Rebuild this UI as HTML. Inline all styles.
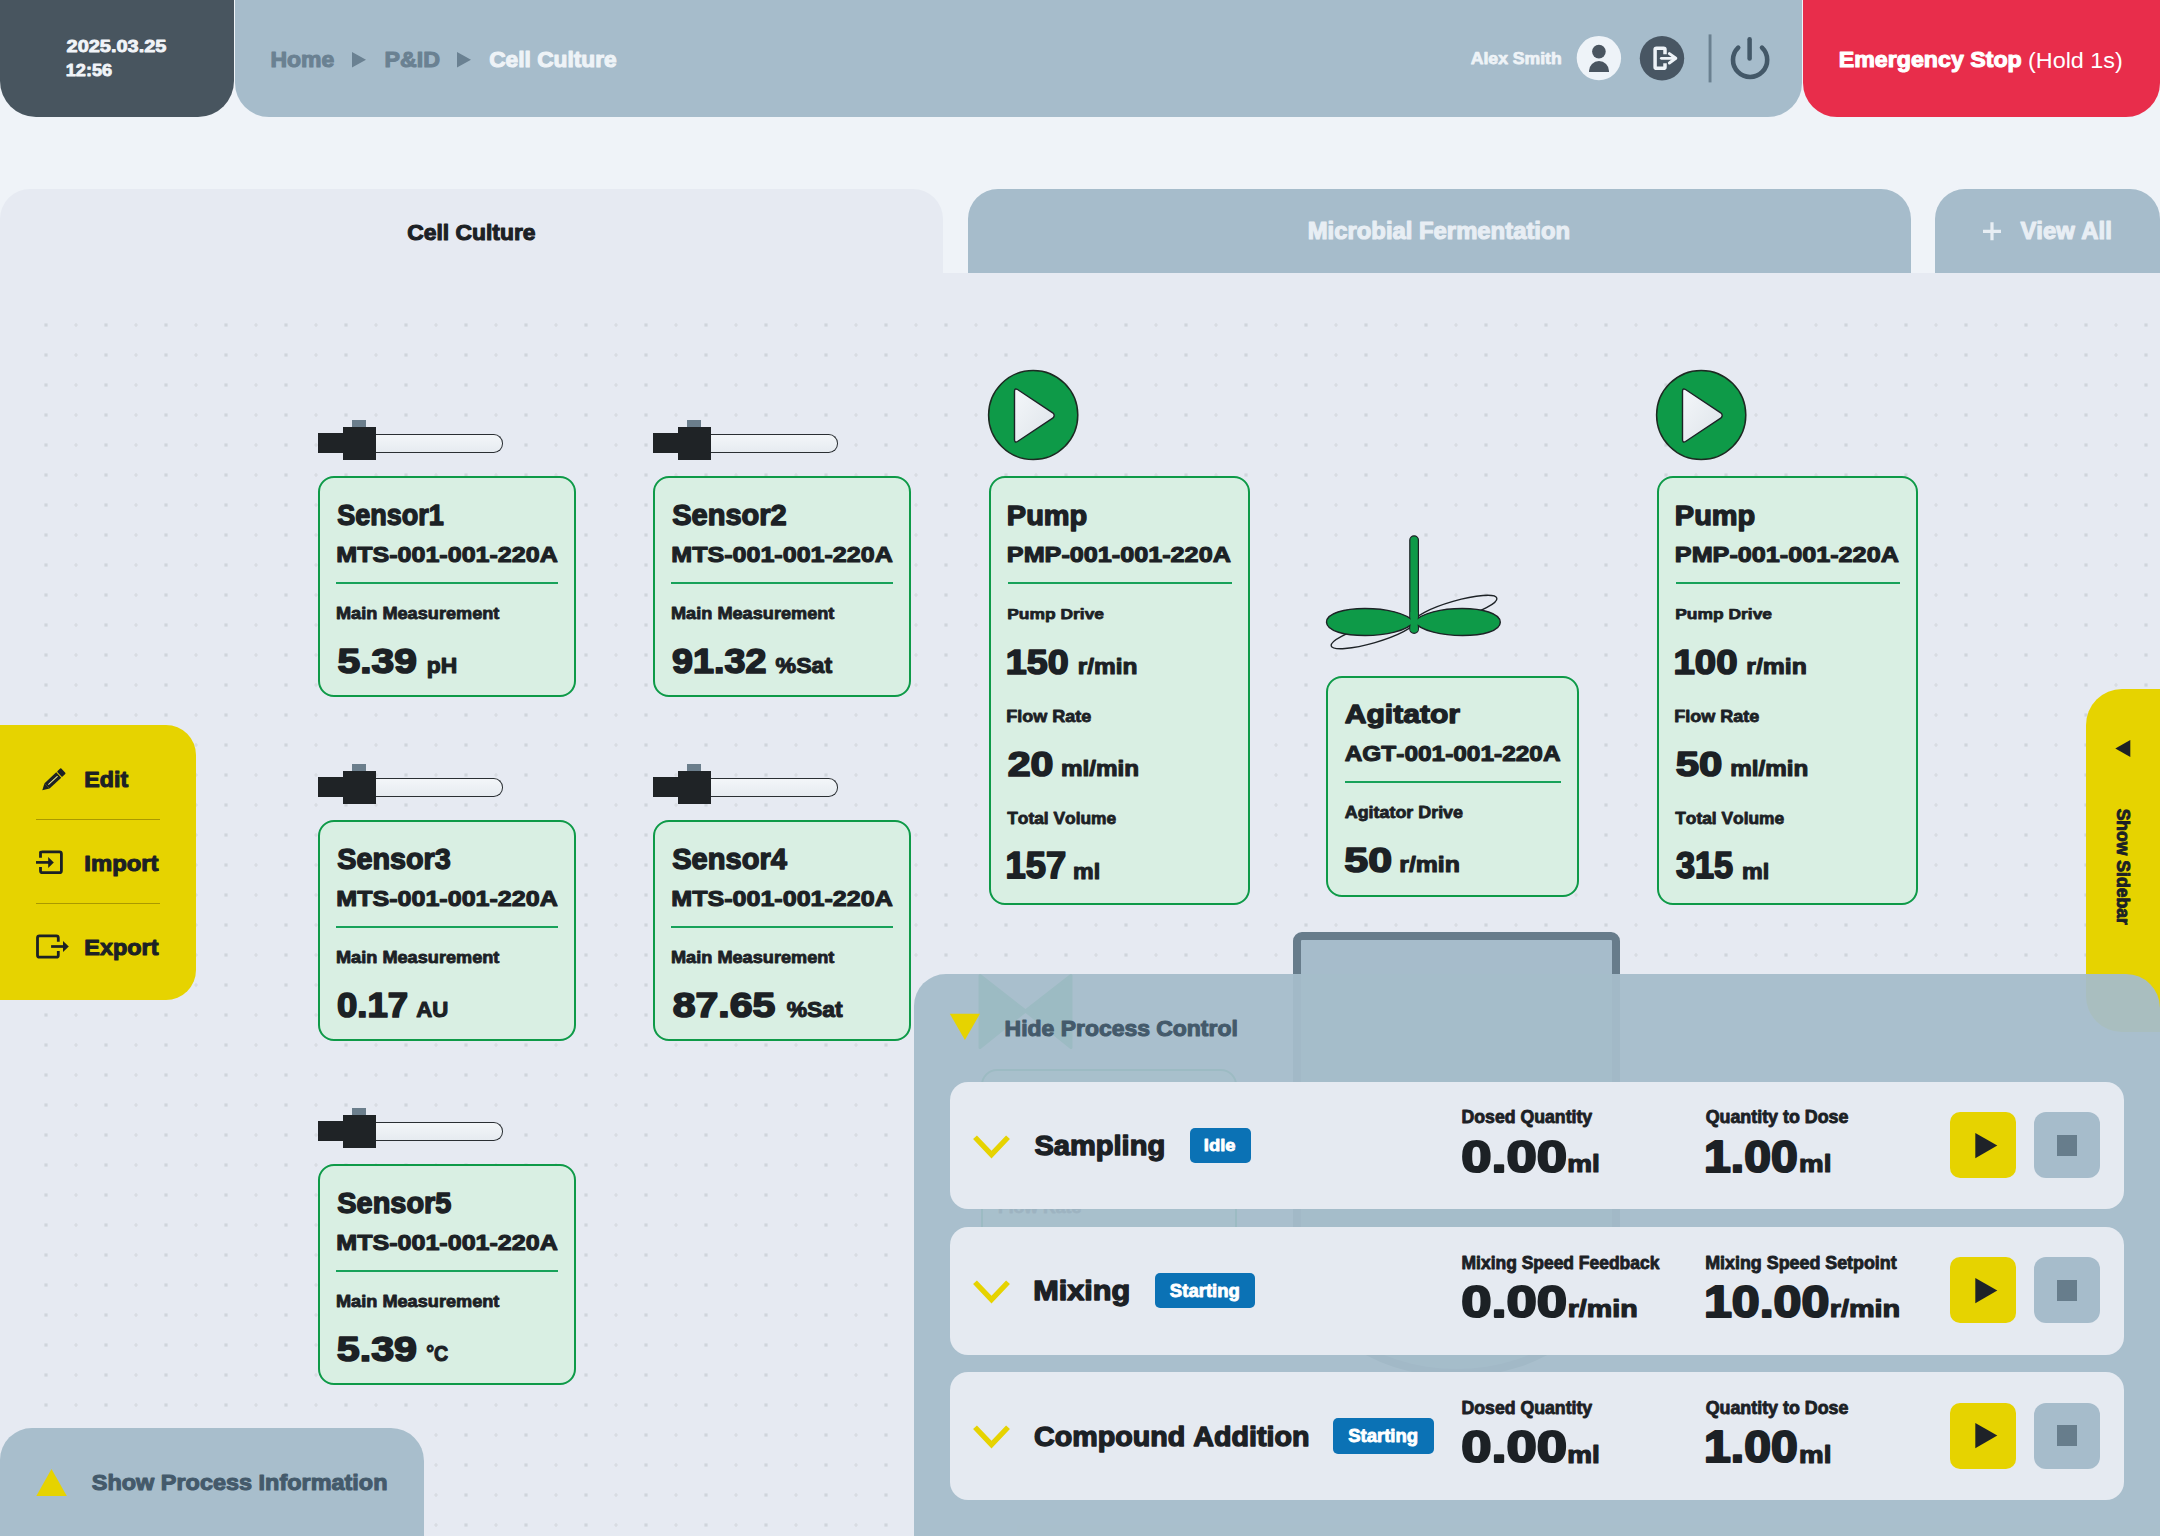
<!DOCTYPE html>
<html><head><meta charset="utf-8"><title>Cell Culture P&amp;ID</title>
<style>
*{margin:0;padding:0}
html,body{width:2160px;height:1536px;overflow:hidden;background:#eff3f8;font-family:"Liberation Sans",sans-serif}
#root{position:relative;width:2160px;height:1536px;overflow:hidden}
#root>div,.abs{position:absolute}
.txt{position:absolute;left:0;top:0;font-family:"Liberation Sans",sans-serif;font-kerning:none;pointer-events:none}
</style></head>
<body><div id="root">
<div style="left:0px;top:272.8px;width:2160px;height:1263.2px;background:#e6eaf2;border-radius:0;z-index:0"></div><svg class="abs" style="left:0;top:273px" width="2160" height="1263" viewBox="0 273 2160 1263">
<defs><pattern id="dp" x="0" y="310" width="60" height="30" patternUnits="userSpaceOnUse">
<rect x="44.4" y="13.4" width="3.2" height="3.2" fill="#d0d5dc"/>
<path d="M16 13 L16 17 M14 15 L18 15" stroke="#d5d9df" stroke-width="1.2"/>
</pattern></defs>
<rect x="40" y="318" width="873" height="1218" fill="url(#dp)"/><rect x="913" y="318" width="1247" height="656" fill="url(#dp)"/></svg><div style="left:0px;top:189px;width:943px;height:90px;background:#e6eaf2;border-radius:30px 30px 0 0;"></div><div style="left:967.5px;top:189px;width:943px;height:84px;background:#a6bccb;border-radius:30px 30px 0 0;"></div><div style="left:1935px;top:189px;width:225px;height:84px;background:#a6bccb;border-radius:30px 30px 0 0;"></div><div style="left:0px;top:0px;width:234px;height:117px;background:#48555f;border-radius:0 0 36px 36px;"></div><div style="left:234.5px;top:0px;width:1567px;height:117px;background:#a6bccb;border-radius:0 0 34px 34px;"></div><div style="left:1802.5px;top:0px;width:357.5px;height:117px;background:#e82d4b;border-radius:0 0 34px 34px;"></div><svg class="abs" style="left:0;top:0" width="2160" height="120" viewBox="0 0 2160 120">
<path d="M352 52 L366 59.8 L352 67.6 Z" fill="#6a8192"/>
<path d="M457 52 L471 59.8 L457 67.6 Z" fill="#6a8192"/>
<circle cx="1598.9" cy="58.1" r="22.2" fill="#eef3f8"/>
<circle cx="1598.9" cy="51.6" r="6.8" fill="#4a5560"/>
<path d="M1589 72.1 L1589 71 A10 10 0 0 1 1609 71 L1609 72.1 Z" fill="#4a5560"/>
<circle cx="1662" cy="58.2" r="22.2" fill="#485663"/>
<path d="M1665 54.2 L1665 49.6 Q1665 48.2 1663.6 48.2 L1656.5 48.2 Q1655.1 48.2 1655.1 49.6 L1655.1 66.9 Q1655.1 68.3 1656.5 68.3 L1663.6 68.3 Q1665 68.3 1665 66.9 L1665 63.3" fill="none" stroke="#eef3f8" stroke-width="3.5" stroke-linejoin="round"/>
<path d="M1661.3 58.3 L1674.5 58.3" stroke="#eef3f8" stroke-width="2.8" stroke-linecap="round"/>
<path d="M1669.4 53.6 L1675.8 58.3 L1669.4 63" fill="none" stroke="#eef3f8" stroke-width="3" stroke-linecap="round" stroke-linejoin="round"/>
<rect x="1708.6" y="34.4" width="2.9" height="48" fill="#6a8090"/>
<path d="M1738.2 47.6 A17.1 17.1 0 1 0 1762 47.6" fill="none" stroke="#435868" stroke-width="4.6" stroke-linecap="round"/>
<path d="M1749.6 39.3 L1749.6 58.4" stroke="#435868" stroke-width="4.5" stroke-linecap="round"/>
<path d="M1992 222.3 L1992 240.3 M1983 231.3 L2001 231.3" stroke="#e8eef4" stroke-width="3.2"/>
</svg><svg class="abs" style="left:1975px;top:215px" width="35" height="35" viewBox="1975 215 35 35"><path d="M1992 222.3 L1992 240.3 M1983 231.3 L2001 231.3" stroke="#e8eef4" stroke-width="3.2"/></svg><div style="left:375px;top:434.2px;width:128.2px;height:19.2px;background:linear-gradient(#f3f6f9,#e6ebf0);border-radius:0 9.2px 9.2px 0;border:1.4px solid #2a2f33;border-left:none;box-sizing:border-box"></div><div style="left:318px;top:433px;width:26px;height:20.3px;background:#1f2326;border-radius:0;"></div><div style="left:352.3px;top:420px;width:13.4px;height:7px;background:#6b7e8c;border-radius:0;"></div><div style="left:343px;top:426.5px;width:32.8px;height:33.2px;background:#1f2326;border-radius:0;"></div><div style="left:318px;top:476px;width:258px;height:221px;background:#d9efe3;border-radius:16px;border:2.5px solid #0e9a48;box-sizing:border-box"></div><div style="left:336.1px;top:581.7px;width:222.39999999999998px;height:2px;background:#17a25a;border-radius:0;"></div><div style="left:710px;top:434.2px;width:128.2px;height:19.2px;background:linear-gradient(#f3f6f9,#e6ebf0);border-radius:0 9.2px 9.2px 0;border:1.4px solid #2a2f33;border-left:none;box-sizing:border-box"></div><div style="left:653px;top:433px;width:26px;height:20.3px;background:#1f2326;border-radius:0;"></div><div style="left:687.3px;top:420px;width:13.4px;height:7px;background:#6b7e8c;border-radius:0;"></div><div style="left:678px;top:426.5px;width:32.8px;height:33.2px;background:#1f2326;border-radius:0;"></div><div style="left:653px;top:476px;width:258px;height:221px;background:#d9efe3;border-radius:16px;border:2.5px solid #0e9a48;box-sizing:border-box"></div><div style="left:671.1px;top:581.7px;width:222.39999999999998px;height:2px;background:#17a25a;border-radius:0;"></div><div style="left:375px;top:778.2px;width:128.2px;height:19.2px;background:linear-gradient(#f3f6f9,#e6ebf0);border-radius:0 9.2px 9.2px 0;border:1.4px solid #2a2f33;border-left:none;box-sizing:border-box"></div><div style="left:318px;top:777px;width:26px;height:20.3px;background:#1f2326;border-radius:0;"></div><div style="left:352.3px;top:764px;width:13.4px;height:7px;background:#6b7e8c;border-radius:0;"></div><div style="left:343px;top:770.5px;width:32.8px;height:33.2px;background:#1f2326;border-radius:0;"></div><div style="left:318px;top:820px;width:258px;height:221px;background:#d9efe3;border-radius:16px;border:2.5px solid #0e9a48;box-sizing:border-box"></div><div style="left:336.1px;top:925.7px;width:222.39999999999998px;height:2px;background:#17a25a;border-radius:0;"></div><div style="left:710px;top:778.2px;width:128.2px;height:19.2px;background:linear-gradient(#f3f6f9,#e6ebf0);border-radius:0 9.2px 9.2px 0;border:1.4px solid #2a2f33;border-left:none;box-sizing:border-box"></div><div style="left:653px;top:777px;width:26px;height:20.3px;background:#1f2326;border-radius:0;"></div><div style="left:687.3px;top:764px;width:13.4px;height:7px;background:#6b7e8c;border-radius:0;"></div><div style="left:678px;top:770.5px;width:32.8px;height:33.2px;background:#1f2326;border-radius:0;"></div><div style="left:653px;top:820px;width:258px;height:221px;background:#d9efe3;border-radius:16px;border:2.5px solid #0e9a48;box-sizing:border-box"></div><div style="left:671.1px;top:925.7px;width:222.39999999999998px;height:2px;background:#17a25a;border-radius:0;"></div><div style="left:375px;top:1122.2px;width:128.2px;height:19.2px;background:linear-gradient(#f3f6f9,#e6ebf0);border-radius:0 9.2px 9.2px 0;border:1.4px solid #2a2f33;border-left:none;box-sizing:border-box"></div><div style="left:318px;top:1121px;width:26px;height:20.3px;background:#1f2326;border-radius:0;"></div><div style="left:352.3px;top:1108px;width:13.4px;height:7px;background:#6b7e8c;border-radius:0;"></div><div style="left:343px;top:1114.5px;width:32.8px;height:33.2px;background:#1f2326;border-radius:0;"></div><div style="left:318px;top:1164px;width:258px;height:221px;background:#d9efe3;border-radius:16px;border:2.5px solid #0e9a48;box-sizing:border-box"></div><div style="left:336.1px;top:1269.7px;width:222.39999999999998px;height:2px;background:#17a25a;border-radius:0;"></div><div style="left:989px;top:476px;width:261px;height:428.5px;background:#d9efe3;border-radius:16px;border:2.5px solid #0e9a48;box-sizing:border-box"></div><div style="left:1008px;top:582px;width:224px;height:2px;background:#17a25a;border-radius:0;"></div><svg class="abs" style="left:984px;top:365px" width="100" height="100" viewBox="984 365 100 100">
<defs><linearGradient id="pg989" x1="0" y1="0" x2="1" y2="1"><stop offset="0" stop-color="#f4f7fa"/><stop offset="1" stop-color="#dde3e9"/></linearGradient></defs>
<circle cx="1033.2" cy="415" r="44.6" fill="#0e9a48" stroke="#1d2a22" stroke-width="1.5"/>
<path d="M1017.5 389.5 Q1014.5 387.8 1014.5 391.5 L1014.5 439.5 Q1014.5 443.2 1017.5 441.5 L1052.7 418.2 Q1055.7 415.5 1052.7 412.8 Z" fill="url(#pg989)" stroke="#1d2226" stroke-width="1.4" stroke-linejoin="round"/>
</svg><div style="left:1657px;top:476px;width:261px;height:428.5px;background:#d9efe3;border-radius:16px;border:2.5px solid #0e9a48;box-sizing:border-box"></div><div style="left:1676px;top:582px;width:224px;height:2px;background:#17a25a;border-radius:0;"></div><svg class="abs" style="left:1652px;top:365px" width="100" height="100" viewBox="1652 365 100 100">
<defs><linearGradient id="pg1657" x1="0" y1="0" x2="1" y2="1"><stop offset="0" stop-color="#f4f7fa"/><stop offset="1" stop-color="#dde3e9"/></linearGradient></defs>
<circle cx="1701.2" cy="415" r="44.6" fill="#0e9a48" stroke="#1d2a22" stroke-width="1.5"/>
<path d="M1685.5 389.5 Q1682.5 387.8 1682.5 391.5 L1682.5 439.5 Q1682.5 443.2 1685.5 441.5 L1720.7 418.2 Q1723.7 415.5 1720.7 412.8 Z" fill="url(#pg1657)" stroke="#1d2226" stroke-width="1.4" stroke-linejoin="round"/>
</svg><div style="left:1326px;top:675.5px;width:253px;height:221.5px;background:#d9efe3;border-radius:16px;border:2.5px solid #0e9a48;box-sizing:border-box"></div><div style="left:1344.5px;top:780.7px;width:216.5px;height:2px;background:#17a25a;border-radius:0;"></div><svg class="abs" style="left:1310px;top:525px" width="200" height="135" viewBox="1310 525 200 135">
<ellipse cx="1455.5" cy="610" rx="43" ry="9" transform="rotate(-16 1455.5 610)" fill="none" stroke="#1d2226" stroke-width="1.4"/>
<ellipse cx="1372.5" cy="634" rx="43" ry="9" transform="rotate(-16 1372.5 634)" fill="none" stroke="#1d2226" stroke-width="1.4"/>
<rect x="1409.8" y="535.8" width="8.6" height="97.5" rx="4.3" fill="#0e9a48" stroke="#1d2226" stroke-width="1.2"/>
<path d="M1414 622 C1400 604 1326 604 1326.5 622.3 C1327 640 1400 640 1414 622 C1428 604 1500 604 1500.3 622.3 C1500.3 640 1428 640 1414 622 Z" fill="#0e9a48" stroke="#1d2226" stroke-width="1.4"/>
<rect x="1410.5" y="612" width="7.2" height="19" fill="#0e9a48"/>
</svg><div style="left:1293px;top:932px;width:327px;height:445px;background:#a6bccb;border-radius:9px 9px 163.5px 163.5px / 9px 9px 130px 130px;border:8.6px solid #677c8b;box-sizing:border-box"></div><svg class="abs" style="left:975px;top:970px" width="100" height="82" viewBox="975 970 100 82">
<path d="M980 975.5 L1025.5 1011 L980 1047.5 Z M1071 975.5 L1025.5 1011 L1071 1047.5 Z" fill="#0e9a48" stroke="#0e9a48" stroke-width="3" stroke-linejoin="round"/></svg><div style="left:980.5px;top:1069.4px;width:256.5px;height:221px;background:#d9efe3;border-radius:16px;border:2.5px solid #0e9a48;box-sizing:border-box"></div><svg class="txt" width="2160" height="1536" viewBox="0 0 2160 1536"><text x="997.95" y="1212.82" font-size="15.89" font-weight="700" fill="#1c2125" textLength="83.27" lengthAdjust="spacingAndGlyphs" stroke="#1c2125" stroke-width="0.77" stroke-linejoin="round">Flow Rate</text></svg><div style="left:0px;top:724.6px;width:195.8px;height:275.8px;background:#e6d300;border-radius:0 30px 30px 0;"></div><div style="left:36px;top:819.3px;width:124.4px;height:1.2px;background:rgba(120,105,0,0.55);border-radius:0;"></div><div style="left:36px;top:903px;width:124.4px;height:1.2px;background:rgba(120,105,0,0.55);border-radius:0;"></div><svg class="abs" style="left:30px;top:760px" width="45" height="205" viewBox="30 760 45 205">
<g transform="translate(42.3 790.3) rotate(-43)">
<path d="M0 0 L6.5 -3.7 L6.5 3.7 Z" fill="#1c2125"/>
<rect x="6.5" y="-3.7" width="16" height="7.4" fill="#1c2125"/>
<rect x="8.3" y="-0.5" width="12.6" height="1" fill="#eee68a"/>
<rect x="23.5" y="-3.7" width="5.2" height="7.4" rx="0.8" fill="#1c2125"/>
</g>
<path d="M40.5 857.7 L40.5 852.2 Q40.5 851.8 42.5 851.8 L59.5 851.8 Q61.4 851.8 61.4 853.8 L61.4 870.7 Q61.4 872.7 59.5 872.7 L42.5 872.7 Q40.5 872.7 40.5 870.7 L40.5 867.1" fill="none" stroke="#1c2125" stroke-width="2.8"/>
<path d="M36 862.4 L49 862.4" stroke="#1c2125" stroke-width="2.7"/>
<path d="M48.2 857 L53.8 862.4 L48.2 868 Z" fill="#1c2125"/>
<path d="M58.3 941.7 L58.3 937.8 Q58.3 935.8 56.3 935.8 L39.5 935.8 Q37.5 935.8 37.5 937.8 L37.5 955.2 Q37.5 957.2 39.5 957.2 L56.3 957.2 Q58.3 957.2 58.3 955.2 L58.3 951" fill="none" stroke="#1c2125" stroke-width="2.8"/>
<path d="M51.1 946.5 L64 946.5" stroke="#1c2125" stroke-width="2.7"/>
<path d="M63 940.9 L68.8 946.5 L63 952 Z" fill="#1c2125"/>
</svg><div style="left:2085.6px;top:688.6px;width:80px;height:343.4px;background:#e6d300;border-radius:36px 0 0 36px;"></div><svg class="abs" style="left:2110px;top:735px" width="25" height="26" viewBox="2110 735 25 26"><path d="M2115.3 748.5 L2130.3 739.9 L2130.3 757.1 Z" fill="#1c2125"/></svg><div style="left:913.8px;top:973.7px;width:1246.2px;height:600px;background:rgba(165,188,202,0.944);border-radius:32px 34px 0 0;"></div><svg class="abs" style="left:945px;top:1008px" width="40" height="36" viewBox="945 1008 40 36"><path d="M949.8 1013.7 L980 1013.7 L964.9 1040 Z" fill="#e6d300"/></svg><div style="left:949.5px;top:1081.7px;width:1174.5px;height:127.8px;background:#e5eaf1;border-radius:18px;"></div><div style="left:1189.6px;top:1127.6000000000001px;width:61.2px;height:35.4px;background:#0b72b5;border-radius:5px;"></div><div style="left:1950px;top:1112.0px;width:66px;height:66.2px;background:#e6d300;border-radius:10px;"></div><div style="left:2034.3px;top:1112.0px;width:65.6px;height:66.2px;background:#a6bccb;border-radius:12px;"></div><div style="left:2056.5px;top:1134.6000000000001px;width:20.8px;height:21.3px;background:#677d8c;border-radius:0;"></div><svg class="abs" style="left:965px;top:1126.7px" width="1040" height="40" viewBox="965 1126.7 1040 40">
<path d="M975 1136.9 L991.5 1154.3 L1008 1136.9" fill="none" stroke="#e6d300" stroke-width="5.3"/>
<path d="M1975.3 1132.7 L1997.3 1145.3 L1975.3 1157.9 Z" fill="#1e2228"/>
</svg><div style="left:949.5px;top:1227.0px;width:1174.5px;height:127.8px;background:#e5eaf1;border-radius:18px;"></div><div style="left:1155.0px;top:1272.9px;width:100.3px;height:35.4px;background:#0b72b5;border-radius:5px;"></div><div style="left:1950px;top:1257.3px;width:66px;height:66.2px;background:#e6d300;border-radius:10px;"></div><div style="left:2034.3px;top:1257.3px;width:65.6px;height:66.2px;background:#a6bccb;border-radius:12px;"></div><div style="left:2056.5px;top:1279.9px;width:20.8px;height:21.3px;background:#677d8c;border-radius:0;"></div><svg class="abs" style="left:965px;top:1272.0px" width="1040" height="40" viewBox="965 1272.0 1040 40">
<path d="M975 1282.2 L991.5 1299.6 L1008 1282.2" fill="none" stroke="#e6d300" stroke-width="5.3"/>
<path d="M1975.3 1278.0 L1997.3 1290.6 L1975.3 1303.2 Z" fill="#1e2228"/>
</svg><div style="left:949.5px;top:1372.3px;width:1174.5px;height:127.8px;background:#e5eaf1;border-radius:18px;"></div><div style="left:1333.3px;top:1418.2px;width:100.7px;height:35.4px;background:#0b72b5;border-radius:5px;"></div><div style="left:1950px;top:1402.6px;width:66px;height:66.2px;background:#e6d300;border-radius:10px;"></div><div style="left:2034.3px;top:1402.6px;width:65.6px;height:66.2px;background:#a6bccb;border-radius:12px;"></div><div style="left:2056.5px;top:1425.2px;width:20.8px;height:21.3px;background:#677d8c;border-radius:0;"></div><svg class="abs" style="left:965px;top:1417.3px" width="1040" height="40" viewBox="965 1417.3 1040 40">
<path d="M975 1427.5 L991.5 1444.8999999999999 L1008 1427.5" fill="none" stroke="#e6d300" stroke-width="5.3"/>
<path d="M1975.3 1423.3 L1997.3 1435.8999999999999 L1975.3 1448.5 Z" fill="#1e2228"/>
</svg><div style="left:0px;top:1427.9px;width:423.7px;height:120px;background:#a8becc;border-radius:32px 33px 0 0;"></div><svg class="abs" style="left:30px;top:1465px" width="45" height="35" viewBox="30 1465 45 35"><path d="M36.3 1496 L51.5 1469 L66.8 1496 Z" fill="#e6d300"/></svg>
<svg class="txt" width="2160" height="1536" viewBox="0 0 2160 1536"><text x="66.62" y="52.09" font-size="16.98" font-weight="700" fill="#f1f4f8" textLength="99.78" lengthAdjust="spacingAndGlyphs" stroke="#f1f4f8" stroke-width="0.82" stroke-linejoin="round">2025.03.25</text><text x="65.76" y="75.85" font-size="16.64" font-weight="700" fill="#f1f4f8" textLength="46.40" lengthAdjust="spacingAndGlyphs" stroke="#f1f4f8" stroke-width="0.80" stroke-linejoin="round">12:56</text><text x="270.40" y="66.66" font-size="22.41" font-weight="700" fill="#6a8192" textLength="63.84" lengthAdjust="spacingAndGlyphs" stroke="#6a8192" stroke-width="1.08" stroke-linejoin="round">Home</text><text x="384.48" y="66.66" font-size="22.41" font-weight="700" fill="#6a8192" textLength="55.55" lengthAdjust="spacingAndGlyphs" stroke="#6a8192" stroke-width="1.08" stroke-linejoin="round">P&amp;ID</text><text x="489.21" y="66.66" font-size="22.41" font-weight="700" fill="#eef3f7" textLength="127.53" lengthAdjust="spacingAndGlyphs" stroke="#eef3f7" stroke-width="1.08" stroke-linejoin="round">Cell Culture</text><text x="1470.74" y="63.62" font-size="15.62" font-weight="700" fill="#eef3f7" textLength="90.98" lengthAdjust="spacingAndGlyphs" stroke="#eef3f7" stroke-width="0.75" stroke-linejoin="round">Alex Smith</text><text x="1838.79" y="67.15" font-size="22.69" font-weight="700" fill="#ffffff" textLength="183.01" lengthAdjust="spacingAndGlyphs" stroke="#ffffff" stroke-width="1.09" stroke-linejoin="round">Emergency Stop</text><text x="2028.05" y="67.70" font-size="22.69" font-weight="400" fill="#ffffff" textLength="94.70" lengthAdjust="spacingAndGlyphs">(Hold 1s)</text><text x="407.21" y="239.85" font-size="22.82" font-weight="700" fill="#1c2125" textLength="128.32" lengthAdjust="spacingAndGlyphs" stroke="#1c2125" stroke-width="1.10" stroke-linejoin="round">Cell Culture</text><text x="1307.71" y="239.44" font-size="23.23" font-weight="700" fill="#e8eef4" textLength="262.41" lengthAdjust="spacingAndGlyphs" stroke="#e8eef4" stroke-width="1.12" stroke-linejoin="round">Microbial Fermentation</text><text x="2020.41" y="239.43" font-size="23.77" font-weight="700" fill="#e8eef4" textLength="91.41" lengthAdjust="spacingAndGlyphs" stroke="#e8eef4" stroke-width="1.14" stroke-linejoin="round">View All</text><text x="84.39" y="786.95" font-size="22.69" font-weight="700" fill="#1c2125" textLength="43.84" lengthAdjust="spacingAndGlyphs" stroke="#1c2125" stroke-width="1.09" stroke-linejoin="round">Edit</text><text x="84.33" y="871.37" font-size="21.87" font-weight="700" fill="#1c2125" textLength="74.18" lengthAdjust="spacingAndGlyphs" stroke="#1c2125" stroke-width="1.05" stroke-linejoin="round">Import</text><text x="84.36" y="955.27" font-size="22.01" font-weight="700" fill="#1c2125" textLength="74.14" lengthAdjust="spacingAndGlyphs" stroke="#1c2125" stroke-width="1.06" stroke-linejoin="round">Export</text><text transform="translate(2116.65 0.00) rotate(90)" x="808.64" y="0" font-size="18.61" font-weight="700" fill="#1c2125" textLength="116.18" lengthAdjust="spacingAndGlyphs" stroke="#1c2125" stroke-width="0.90" stroke-linejoin="round">Show Sidebar</text><text x="337.31" y="524.61" font-size="28.66" font-weight="700" fill="#1c2125" textLength="106.55" lengthAdjust="spacingAndGlyphs" stroke="#1c2125" stroke-width="1.38" stroke-linejoin="round">Sensor1</text><text x="336.27" y="562.25" font-size="22.82" font-weight="700" fill="#1c2125" textLength="221.54" lengthAdjust="spacingAndGlyphs" stroke="#1c2125" stroke-width="1.10" stroke-linejoin="round">MTS-001-001-220A</text><text x="336.00" y="619.38" font-size="17.25" font-weight="700" fill="#1c2125" textLength="163.41" lengthAdjust="spacingAndGlyphs" stroke="#1c2125" stroke-width="0.83" stroke-linejoin="round">Main Measurement</text><text x="337.50" y="673.15" font-size="35.32" font-weight="700" fill="#1c2125" textLength="79.37" lengthAdjust="spacingAndGlyphs" stroke="#1c2125" stroke-width="1.70" stroke-linejoin="round">5.39</text><text x="426.75" y="673.45" font-size="22.90" font-weight="700" fill="#1c2125" textLength="30.44" lengthAdjust="spacingAndGlyphs" stroke="#1c2125" stroke-width="1.10" stroke-linejoin="round">pH</text><text x="672.25" y="524.61" font-size="28.66" font-weight="700" fill="#1c2125" textLength="114.52" lengthAdjust="spacingAndGlyphs" stroke="#1c2125" stroke-width="1.38" stroke-linejoin="round">Sensor2</text><text x="671.27" y="562.25" font-size="22.82" font-weight="700" fill="#1c2125" textLength="221.54" lengthAdjust="spacingAndGlyphs" stroke="#1c2125" stroke-width="1.10" stroke-linejoin="round">MTS-001-001-220A</text><text x="671.00" y="619.38" font-size="17.25" font-weight="700" fill="#1c2125" textLength="163.41" lengthAdjust="spacingAndGlyphs" stroke="#1c2125" stroke-width="0.83" stroke-linejoin="round">Main Measurement</text><text x="672.14" y="673.15" font-size="35.32" font-weight="700" fill="#1c2125" textLength="94.32" lengthAdjust="spacingAndGlyphs" stroke="#1c2125" stroke-width="1.70" stroke-linejoin="round">91.32</text><text x="775.58" y="673.45" font-size="22.90" font-weight="700" fill="#1c2125" textLength="56.56" lengthAdjust="spacingAndGlyphs" stroke="#1c2125" stroke-width="1.10" stroke-linejoin="round">%Sat</text><text x="337.26" y="868.61" font-size="28.66" font-weight="700" fill="#1c2125" textLength="113.49" lengthAdjust="spacingAndGlyphs" stroke="#1c2125" stroke-width="1.38" stroke-linejoin="round">Sensor3</text><text x="336.27" y="906.25" font-size="22.82" font-weight="700" fill="#1c2125" textLength="221.54" lengthAdjust="spacingAndGlyphs" stroke="#1c2125" stroke-width="1.10" stroke-linejoin="round">MTS-001-001-220A</text><text x="336.00" y="963.38" font-size="17.25" font-weight="700" fill="#1c2125" textLength="163.41" lengthAdjust="spacingAndGlyphs" stroke="#1c2125" stroke-width="0.83" stroke-linejoin="round">Main Measurement</text><text x="336.90" y="1017.15" font-size="35.32" font-weight="700" fill="#1c2125" textLength="71.15" lengthAdjust="spacingAndGlyphs" stroke="#1c2125" stroke-width="1.70" stroke-linejoin="round">0.17</text><text x="416.25" y="1017.45" font-size="22.90" font-weight="700" fill="#1c2125" textLength="32.05" lengthAdjust="spacingAndGlyphs" stroke="#1c2125" stroke-width="1.10" stroke-linejoin="round">AU</text><text x="672.25" y="868.61" font-size="28.66" font-weight="700" fill="#1c2125" textLength="114.61" lengthAdjust="spacingAndGlyphs" stroke="#1c2125" stroke-width="1.38" stroke-linejoin="round">Sensor4</text><text x="671.27" y="906.25" font-size="22.82" font-weight="700" fill="#1c2125" textLength="221.54" lengthAdjust="spacingAndGlyphs" stroke="#1c2125" stroke-width="1.10" stroke-linejoin="round">MTS-001-001-220A</text><text x="671.00" y="963.38" font-size="17.25" font-weight="700" fill="#1c2125" textLength="163.41" lengthAdjust="spacingAndGlyphs" stroke="#1c2125" stroke-width="0.83" stroke-linejoin="round">Main Measurement</text><text x="672.75" y="1017.15" font-size="35.32" font-weight="700" fill="#1c2125" textLength="102.64" lengthAdjust="spacingAndGlyphs" stroke="#1c2125" stroke-width="1.70" stroke-linejoin="round">87.65</text><text x="786.68" y="1017.45" font-size="22.90" font-weight="700" fill="#1c2125" textLength="56.05" lengthAdjust="spacingAndGlyphs" stroke="#1c2125" stroke-width="1.10" stroke-linejoin="round">%Sat</text><text x="337.26" y="1212.61" font-size="28.66" font-weight="700" fill="#1c2125" textLength="114.16" lengthAdjust="spacingAndGlyphs" stroke="#1c2125" stroke-width="1.38" stroke-linejoin="round">Sensor5</text><text x="336.27" y="1250.25" font-size="22.82" font-weight="700" fill="#1c2125" textLength="221.54" lengthAdjust="spacingAndGlyphs" stroke="#1c2125" stroke-width="1.10" stroke-linejoin="round">MTS-001-001-220A</text><text x="336.00" y="1307.38" font-size="17.25" font-weight="700" fill="#1c2125" textLength="163.41" lengthAdjust="spacingAndGlyphs" stroke="#1c2125" stroke-width="0.83" stroke-linejoin="round">Main Measurement</text><text x="336.78" y="1361.15" font-size="35.32" font-weight="700" fill="#1c2125" textLength="80.30" lengthAdjust="spacingAndGlyphs" stroke="#1c2125" stroke-width="1.70" stroke-linejoin="round">5.39</text><text x="426.19" y="1361.45" font-size="22.90" font-weight="700" fill="#1c2125" textLength="21.99" lengthAdjust="spacingAndGlyphs" stroke="#1c2125" stroke-width="1.10" stroke-linejoin="round">°C</text><text x="1006.83" y="525.33" font-size="27.85" font-weight="700" fill="#1c2125" textLength="80.49" lengthAdjust="spacingAndGlyphs" stroke="#1c2125" stroke-width="1.34" stroke-linejoin="round">Pump</text><text x="1006.84" y="562.48" font-size="21.74" font-weight="700" fill="#1c2125" textLength="224.00" lengthAdjust="spacingAndGlyphs" stroke="#1c2125" stroke-width="1.05" stroke-linejoin="round">PMP-001-001-220A</text><text x="1007.21" y="619.43" font-size="15.49" font-weight="700" fill="#1c2125" textLength="96.82" lengthAdjust="spacingAndGlyphs" stroke="#1c2125" stroke-width="0.75" stroke-linejoin="round">Pump Drive</text><text x="1006.20" y="722.10" font-size="16.71" font-weight="700" fill="#1c2125" textLength="85.01" lengthAdjust="spacingAndGlyphs" stroke="#1c2125" stroke-width="0.80" stroke-linejoin="round">Flow Rate</text><text x="1007.20" y="824.10" font-size="16.44" font-weight="700" fill="#1c2125" textLength="109.00" lengthAdjust="spacingAndGlyphs" stroke="#1c2125" stroke-width="0.79" stroke-linejoin="round">Total Volume</text><text x="1005.79" y="673.64" font-size="35.59" font-weight="700" fill="#1c2125" textLength="62.80" lengthAdjust="spacingAndGlyphs" stroke="#1c2125" stroke-width="1.71" stroke-linejoin="round">150</text><text x="1077.74" y="673.95" font-size="22.90" font-weight="700" fill="#1c2125" textLength="59.72" lengthAdjust="spacingAndGlyphs" stroke="#1c2125" stroke-width="1.10" stroke-linejoin="round">r/min</text><text x="1007.73" y="775.94" font-size="35.73" font-weight="700" fill="#1c2125" textLength="45.80" lengthAdjust="spacingAndGlyphs" stroke="#1c2125" stroke-width="1.72" stroke-linejoin="round">20</text><text x="1060.95" y="776.25" font-size="22.90" font-weight="700" fill="#1c2125" textLength="78.20" lengthAdjust="spacingAndGlyphs" stroke="#1c2125" stroke-width="1.10" stroke-linejoin="round">ml/min</text><text x="1005.59" y="878.32" font-size="36.41" font-weight="700" fill="#1c2125" textLength="60.63" lengthAdjust="spacingAndGlyphs" stroke="#1c2125" stroke-width="1.75" stroke-linejoin="round">157</text><text x="1073.02" y="878.65" font-size="22.90" font-weight="700" fill="#1c2125" textLength="27.07" lengthAdjust="spacingAndGlyphs" stroke="#1c2125" stroke-width="1.10" stroke-linejoin="round">ml</text><text x="1674.83" y="525.33" font-size="27.85" font-weight="700" fill="#1c2125" textLength="80.49" lengthAdjust="spacingAndGlyphs" stroke="#1c2125" stroke-width="1.34" stroke-linejoin="round">Pump</text><text x="1674.84" y="562.48" font-size="21.74" font-weight="700" fill="#1c2125" textLength="224.00" lengthAdjust="spacingAndGlyphs" stroke="#1c2125" stroke-width="1.05" stroke-linejoin="round">PMP-001-001-220A</text><text x="1675.21" y="619.43" font-size="15.49" font-weight="700" fill="#1c2125" textLength="96.82" lengthAdjust="spacingAndGlyphs" stroke="#1c2125" stroke-width="0.75" stroke-linejoin="round">Pump Drive</text><text x="1674.20" y="722.10" font-size="16.71" font-weight="700" fill="#1c2125" textLength="85.01" lengthAdjust="spacingAndGlyphs" stroke="#1c2125" stroke-width="0.80" stroke-linejoin="round">Flow Rate</text><text x="1675.20" y="824.10" font-size="16.44" font-weight="700" fill="#1c2125" textLength="109.00" lengthAdjust="spacingAndGlyphs" stroke="#1c2125" stroke-width="0.79" stroke-linejoin="round">Total Volume</text><text x="1673.44" y="673.64" font-size="35.59" font-weight="700" fill="#1c2125" textLength="64.08" lengthAdjust="spacingAndGlyphs" stroke="#1c2125" stroke-width="1.71" stroke-linejoin="round">100</text><text x="1746.32" y="673.95" font-size="22.90" font-weight="700" fill="#1c2125" textLength="60.57" lengthAdjust="spacingAndGlyphs" stroke="#1c2125" stroke-width="1.10" stroke-linejoin="round">r/min</text><text x="1675.77" y="775.94" font-size="35.73" font-weight="700" fill="#1c2125" textLength="46.59" lengthAdjust="spacingAndGlyphs" stroke="#1c2125" stroke-width="1.72" stroke-linejoin="round">50</text><text x="1730.15" y="776.25" font-size="22.90" font-weight="700" fill="#1c2125" textLength="78.10" lengthAdjust="spacingAndGlyphs" stroke="#1c2125" stroke-width="1.10" stroke-linejoin="round">ml/min</text><text x="1675.89" y="878.32" font-size="36.41" font-weight="700" fill="#1c2125" textLength="57.19" lengthAdjust="spacingAndGlyphs" stroke="#1c2125" stroke-width="1.75" stroke-linejoin="round">315</text><text x="1742.02" y="878.65" font-size="22.90" font-weight="700" fill="#1c2125" textLength="27.18" lengthAdjust="spacingAndGlyphs" stroke="#1c2125" stroke-width="1.10" stroke-linejoin="round">ml</text><text x="1344.68" y="722.97" font-size="26.08" font-weight="700" fill="#1c2125" textLength="115.35" lengthAdjust="spacingAndGlyphs" stroke="#1c2125" stroke-width="1.26" stroke-linejoin="round">Agitator</text><text x="1344.71" y="761.19" font-size="21.33" font-weight="700" fill="#1c2125" textLength="215.83" lengthAdjust="spacingAndGlyphs" stroke="#1c2125" stroke-width="1.03" stroke-linejoin="round">AGT-001-001-220A</text><text x="1344.75" y="818.30" font-size="16.57" font-weight="700" fill="#1c2125" textLength="118.26" lengthAdjust="spacingAndGlyphs" stroke="#1c2125" stroke-width="0.80" stroke-linejoin="round">Agitator Drive</text><text x="1344.31" y="872.07" font-size="34.37" font-weight="700" fill="#1c2125" textLength="47.72" lengthAdjust="spacingAndGlyphs" stroke="#1c2125" stroke-width="1.65" stroke-linejoin="round">50</text><text x="1399.22" y="872.35" font-size="22.90" font-weight="700" fill="#1c2125" textLength="60.67" lengthAdjust="spacingAndGlyphs" stroke="#1c2125" stroke-width="1.10" stroke-linejoin="round">r/min</text><text x="1004.61" y="1036.26" font-size="22.41" font-weight="700" fill="#445a6b" textLength="233.18" lengthAdjust="spacingAndGlyphs" stroke="#445a6b" stroke-width="1.08" stroke-linejoin="round">Hide Process Control</text><text x="1034.44" y="1155.12" font-size="28.12" font-weight="700" fill="#1c2125" textLength="130.73" lengthAdjust="spacingAndGlyphs" stroke="#1c2125" stroke-width="1.35" stroke-linejoin="round">Sampling</text><text x="1203.86" y="1150.61" font-size="16.30" font-weight="700" fill="#ffffff" textLength="31.67" lengthAdjust="spacingAndGlyphs" stroke="#ffffff" stroke-width="0.78" stroke-linejoin="round">Idle</text><text x="1461.54" y="1123.27" font-size="17.66" font-weight="700" fill="#1c2125" textLength="130.63" lengthAdjust="spacingAndGlyphs" stroke="#1c2125" stroke-width="0.85" stroke-linejoin="round">Dosed Quantity</text><text x="1461.21" y="1171.63" font-size="44.29" font-weight="700" fill="#1c2125" textLength="105.95" lengthAdjust="spacingAndGlyphs" stroke="#1c2125" stroke-width="2.13" stroke-linejoin="round">0.00</text><text x="1567.25" y="1172.12" font-size="24.30" font-weight="700" fill="#1c2125" textLength="32.54" lengthAdjust="spacingAndGlyphs" stroke="#1c2125" stroke-width="1.17" stroke-linejoin="round">ml</text><text x="1705.69" y="1123.27" font-size="17.66" font-weight="700" fill="#1c2125" textLength="142.69" lengthAdjust="spacingAndGlyphs" stroke="#1c2125" stroke-width="0.85" stroke-linejoin="round">Quantity to Dose</text><text x="1704.03" y="1171.63" font-size="44.29" font-weight="700" fill="#1c2125" textLength="93.67" lengthAdjust="spacingAndGlyphs" stroke="#1c2125" stroke-width="2.13" stroke-linejoin="round">1.00</text><text x="1799.06" y="1172.12" font-size="24.30" font-weight="700" fill="#1c2125" textLength="32.32" lengthAdjust="spacingAndGlyphs" stroke="#1c2125" stroke-width="1.17" stroke-linejoin="round">ml</text><text x="1033.23" y="1300.42" font-size="28.12" font-weight="700" fill="#1c2125" textLength="97.05" lengthAdjust="spacingAndGlyphs" stroke="#1c2125" stroke-width="1.35" stroke-linejoin="round">Mixing</text><text x="1169.89" y="1296.87" font-size="17.66" font-weight="700" fill="#ffffff" textLength="69.92" lengthAdjust="spacingAndGlyphs" stroke="#ffffff" stroke-width="0.85" stroke-linejoin="round">Starting</text><text x="1461.56" y="1268.57" font-size="17.66" font-weight="700" fill="#1c2125" textLength="197.80" lengthAdjust="spacingAndGlyphs" stroke="#1c2125" stroke-width="0.85" stroke-linejoin="round">Mixing Speed Feedback</text><text x="1461.21" y="1316.93" font-size="44.29" font-weight="700" fill="#1c2125" textLength="105.95" lengthAdjust="spacingAndGlyphs" stroke="#1c2125" stroke-width="2.13" stroke-linejoin="round">0.00</text><text x="1567.70" y="1317.41" font-size="24.30" font-weight="700" fill="#1c2125" textLength="69.99" lengthAdjust="spacingAndGlyphs" stroke="#1c2125" stroke-width="1.17" stroke-linejoin="round">r/min</text><text x="1705.23" y="1268.57" font-size="17.66" font-weight="700" fill="#1c2125" textLength="191.46" lengthAdjust="spacingAndGlyphs" stroke="#1c2125" stroke-width="0.85" stroke-linejoin="round">Mixing Speed Setpoint</text><text x="1703.91" y="1316.93" font-size="44.29" font-weight="700" fill="#1c2125" textLength="125.48" lengthAdjust="spacingAndGlyphs" stroke="#1c2125" stroke-width="2.13" stroke-linejoin="round">10.00</text><text x="1829.68" y="1317.41" font-size="24.30" font-weight="700" fill="#1c2125" textLength="70.52" lengthAdjust="spacingAndGlyphs" stroke="#1c2125" stroke-width="1.17" stroke-linejoin="round">r/min</text><text x="1034.10" y="1445.72" font-size="28.12" font-weight="700" fill="#1c2125" textLength="275.50" lengthAdjust="spacingAndGlyphs" stroke="#1c2125" stroke-width="1.35" stroke-linejoin="round">Compound Addition</text><text x="1348.19" y="1442.17" font-size="17.66" font-weight="700" fill="#ffffff" textLength="69.92" lengthAdjust="spacingAndGlyphs" stroke="#ffffff" stroke-width="0.85" stroke-linejoin="round">Starting</text><text x="1461.54" y="1413.87" font-size="17.66" font-weight="700" fill="#1c2125" textLength="130.63" lengthAdjust="spacingAndGlyphs" stroke="#1c2125" stroke-width="0.85" stroke-linejoin="round">Dosed Quantity</text><text x="1461.21" y="1462.23" font-size="44.29" font-weight="700" fill="#1c2125" textLength="105.95" lengthAdjust="spacingAndGlyphs" stroke="#1c2125" stroke-width="2.13" stroke-linejoin="round">0.00</text><text x="1567.25" y="1462.71" font-size="24.30" font-weight="700" fill="#1c2125" textLength="32.54" lengthAdjust="spacingAndGlyphs" stroke="#1c2125" stroke-width="1.17" stroke-linejoin="round">ml</text><text x="1705.69" y="1413.87" font-size="17.66" font-weight="700" fill="#1c2125" textLength="142.69" lengthAdjust="spacingAndGlyphs" stroke="#1c2125" stroke-width="0.85" stroke-linejoin="round">Quantity to Dose</text><text x="1704.03" y="1462.23" font-size="44.29" font-weight="700" fill="#1c2125" textLength="93.67" lengthAdjust="spacingAndGlyphs" stroke="#1c2125" stroke-width="2.13" stroke-linejoin="round">1.00</text><text x="1799.06" y="1462.71" font-size="24.30" font-weight="700" fill="#1c2125" textLength="32.32" lengthAdjust="spacingAndGlyphs" stroke="#1c2125" stroke-width="1.17" stroke-linejoin="round">ml</text><text x="91.87" y="1490.45" font-size="22.82" font-weight="700" fill="#445a6b" textLength="295.63" lengthAdjust="spacingAndGlyphs" stroke="#445a6b" stroke-width="1.10" stroke-linejoin="round">Show Process Information</text></svg>
</div></body></html>
